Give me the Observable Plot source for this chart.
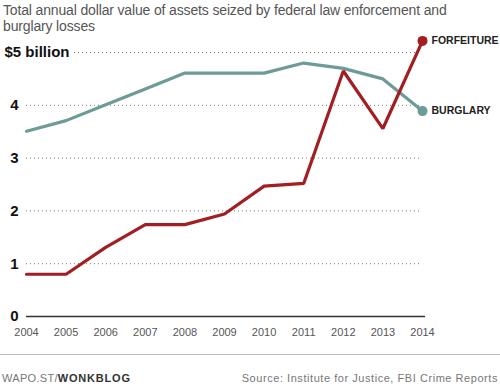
<!DOCTYPE html>
<html><head><meta charset="utf-8">
<script src="https://cdn.jsdelivr.net/npm/d3@7"></script>
<script src="https://cdn.jsdelivr.net/npm/@observablehq/plot@0.6"></script>
<style>
html,body{margin:0;padding:0;background:#fff}
body{width:500px;height:389px;overflow:hidden;font-family:"Liberation Sans",Arial,sans-serif}
#title{font-size:14px;line-height:16px;color:#555;padding:2px 0 0 3px;height:36px;box-sizing:border-box;font-weight:300;letter-spacing:-0.15px}
#chart svg{display:block}
#footer{margin-top:8px;border-top:1px solid #bbb;padding:16px 2px 0 2px;font-size:11px;line-height:14px;display:flex;justify-content:space-between;color:#777}
#footer b{color:#333;letter-spacing:0.8px}
#footer .l{letter-spacing:0.3px}
#footer .r{letter-spacing:0.55px}
</style>
</head><body>
<div id="title">Total annual dollar value of assets seized by federal law enforcement and<br>burglary losses</div>
<div id="chart"></div>
<div id="footer"><span class="l">WAPO.ST/<b>WONKBLOG</b></span><span class="r">Source: Institute for Justice, FBI Crime Reports</span></div>
<script>
const years = [2004, 2005, 2006, 2007, 2008, 2009, 2010, 2011, 2012, 2013, 2014];
const forfeiture = [0.80, 0.80, 1.31, 1.74, 1.74, 1.94, 2.47, 2.52, 4.65, 3.56, 5.22];
const burglary = [3.51, 3.71, 4.01, 4.31, 4.61, 4.61, 4.61, 4.80, 4.70, 4.50, 3.89];
const yTicks = [0, 1, 2, 3, 4, 5];
const yTickLabels = ["0", "1", "2", "3", "4", "$5 billion"];
const seriesNames = ["FORFEITURE", "BURGLARY"];

const forfData = years.map((y, i) => ({year: y, value: forfeiture[i]}));
const burgData = years.map((y, i) => ({year: y, value: burglary[i]}));
const lastF = forfData[forfData.length - 1];
const lastB = burgData[burgData.length - 1];
const RED = "#a31e22", TEAL = "#6d9b96";

const chart = Plot.plot({
  width: 500,
  height: 310,
  marginLeft: 26,
  marginRight: 78,
  marginTop: 16,
  marginBottom: 30,
  style: {fontFamily: '"Liberation Sans", Arial, sans-serif', overflow: "visible", background: "transparent"},
  x: {domain: [2004, 2014], axis: null},
  y: {domain: [0, 5], axis: null},
  marks: [
    Plot.ruleY(yTicks.slice(1, 5), {stroke: "#777", strokeWidth: 1, strokeDasharray: "1,3"}),
    Plot.ruleY([yTicks[5]], {stroke: "#777", strokeWidth: 1, strokeDasharray: "1,3", insetLeft: 48}),
    Plot.ruleY([yTicks[0]], {stroke: "#333", strokeWidth: 1.5, insetRight: -3}),
    Plot.text(years, {x: d => d, frameAnchor: "bottom", dy: 19, text: d => String(d), fontSize: 11, fill: "#555"}),
    Plot.text(yTicks.slice(0, 5), {y: d => d, frameAnchor: "left", dx: -8, textAnchor: "end", text: d => yTickLabels[yTicks.indexOf(d)], fontSize: 15, fontWeight: "bold", fill: "#111"}),
    Plot.text([yTicks[5]], {y: d => d, frameAnchor: "left", dx: -22, textAnchor: "start", text: d => yTickLabels[yTicks.indexOf(d)], fontSize: 15, fontWeight: "bold", fill: "#111"}),
    Plot.line(burgData, {x: "year", y: "value", stroke: TEAL, strokeWidth: 3.2, strokeLinejoin: "miter"}),
    Plot.line(forfData, {x: "year", y: "value", stroke: RED, strokeWidth: 3.2, strokeLinejoin: "miter"}),
    Plot.dot([lastB], {x: "year", y: "value", r: 5, fill: TEAL}),
    Plot.dot([lastF], {x: "year", y: "value", r: 5, fill: RED}),
    Plot.text([lastF], {x: "year", y: "value", text: () => seriesNames[0], dx: 9, textAnchor: "start", fontSize: 10.5, fontWeight: "bold", fill: "#222", letterSpacing: "-0.1px"}),
    Plot.text([lastB], {x: "year", y: "value", text: () => seriesNames[1], dx: 9, textAnchor: "start", fontSize: 10.5, fontWeight: "bold", fill: "#222", letterSpacing: "-0.1px"})
  ]
});
document.getElementById("chart").appendChild(chart);
</script>
</body></html>
